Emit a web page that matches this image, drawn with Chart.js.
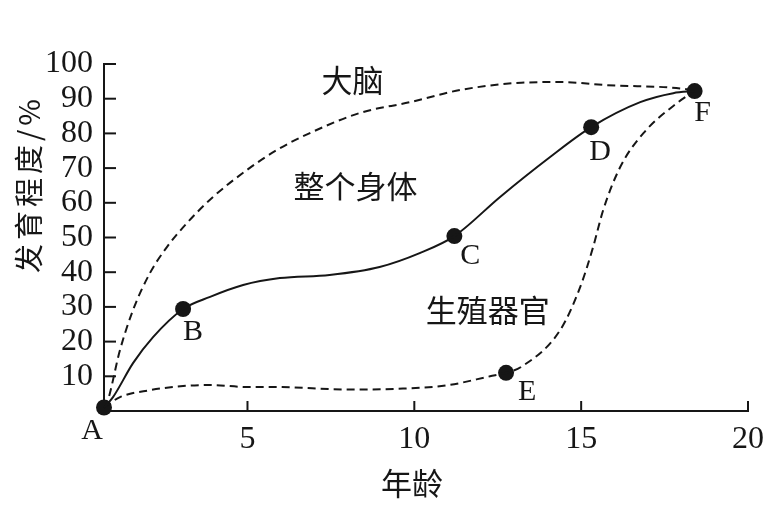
<!DOCTYPE html>
<html>
<head>
<meta charset="utf-8">
<script src="https://cdn.jsdelivr.net/npm/chart.js@4.4.0/dist/chart.umd.min.js"></script>
<style>
  html, body { margin: 0; padding: 0; background: #fff; }
  #wrap { width: 776px; height: 507px; position: relative; }
</style>
</head>
<body>
<div id="wrap"><canvas id="c"></canvas></div>
<script>
/* 人体各部分发育曲线 – 整个身体 / 大脑 / 生殖器官 */
const xTicks = [5, 10, 15, 20];
const yTicks = [10, 20, 30, 40, 50, 60, 70, 80, 90, 100];

// 整个身体 (solid)
const bodyX = [0.7, 0.97, 1.57, 2.17, 3.07, 3.88, 4.87, 5.97, 7.46, 8.96, 10.16, 11.2, 12.57, 14.07, 15.3, 16.77, 17.76, 18.4];
const bodyY = [1, 4, 13.8, 21.3, 29.4, 32.9, 36.3, 38.3, 39.2, 41.5, 45.5, 50.4, 61.7, 73.2, 81.8, 89, 91.6, 92.2];

// 大脑 (dashed, upper)
const brainX = [0.7, 0.79, 1.18, 1.57, 2.08, 2.59, 3.19, 3.97, 4.99, 5.88, 6.87, 8.37, 9.87, 11.37, 13.2, 14.4, 15.78, 18.1, 18.4];
const brainY = [1, 2.3, 17.6, 29.1, 39.8, 47.3, 54.2, 61.7, 69.5, 75.2, 80.1, 85.9, 89, 92.5, 94.6, 94.8, 93.9, 92.8, 92.2];

// 生殖器官 (dashed, lower)
const reproX = [0.7, 1.18, 2.08, 3.07, 3.88, 4.99, 5.88, 8, 9.5, 10.98, 12.27, 12.75, 13.2, 14.37, 14.97, 15.36, 15.66, 16.17, 16.86, 17.88, 18.4];
const reproY = [1, 4, 6, 7.2, 7.5, 6.9, 6.9, 6.2, 6.4, 7.4, 10, 11, 12.7, 23.3, 35.7, 47.3, 57.9, 70.3, 80, 88.8, 92.2];

// 关键点 A–F
const keyNames = ['A', 'B', 'C', 'D', 'E', 'F'];
const keyX = [0.7, 3.07, 11.2, 15.3, 12.75, 18.4];
const keyY = [1, 29.4, 50.4, 81.8, 11, 92.2];

// 区域文字
const regionNames = ['大脑', '整个身体', '生殖器官'];
const regionX = [8.15, 8.24, 12.2];
const regionY = [95.4, 64.8, 29.1];

const INK = '#161616';
const zip = (xs, ys) => xs.map((x, i) => ({ x, y: ys[i] }));

const extras = {
    id: 'extras',
    afterDraw(chart) {
        const { ctx, scales: { x, y } } = chart;
        const ax = x.left, ay = y.bottom;
        ctx.save();
        ctx.strokeStyle = INK;
        ctx.lineWidth = 2;
        // inward tick marks
        y.ticks.forEach(t => {
            const py = y.getPixelForValue(t.value);
            ctx.beginPath(); ctx.moveTo(ax, py); ctx.lineTo(ax + 12, py); ctx.stroke();
        });
        x.ticks.forEach(t => {
            const px = x.getPixelForValue(t.value);
            ctx.beginPath(); ctx.moveTo(px, ay); ctx.lineTo(px, ay - 10); ctx.stroke();
        });

        ctx.fillStyle = INK;
        ctx.textAlign = 'center';
        ctx.textBaseline = 'middle';

        // point letters
        const off = { A: [-12, 24], B: [10, 23], C: [16, 20], D: [9, 25], E: [21, 19], F: [8, 22] };
        ctx.font = '30px "Liberation Serif", "DejaVu Serif", serif';
        keyNames.forEach((n, i) => {
            const px = x.getPixelForValue(keyX[i]), py = y.getPixelForValue(keyY[i]);
            ctx.fillText(n, px + off[n][0], py + off[n][1]);
        });

        // region names
        ctx.font = '31px "Noto Sans CJK SC", sans-serif';
        regionNames.forEach((n, i) => {
            ctx.fillText(n, x.getPixelForValue(regionX[i]), y.getPixelForValue(regionY[i]));
        });

        // axis titles
        ctx.fillText('年龄', 412, 483);
        ctx.translate(29, 184);
        ctx.rotate(-Math.PI / 2);
        ctx.font = '29px "Noto Sans CJK SC", sans-serif';
        ctx.letterSpacing = '4px';
        ctx.fillText('发育程度/%', 0, 0);
        ctx.restore();
    }
};

const lineDs = (data, dash) => ({
    type: 'line',
    data,
    borderColor: INK,
    borderWidth: 2,
    borderDash: dash,
    cubicInterpolationMode: 'monotone',
    pointRadius: 0,
    fill: false,
    clip: false,
});

new Chart(document.getElementById('c'), {
    type: 'scatter',
    data: {
        datasets: [
            lineDs(zip(bodyX, bodyY), []),
            lineDs(zip(brainX, brainY), [8, 5]),
            lineDs(zip(reproX, reproY), [8, 5]),
            {
                type: 'scatter',
                data: zip(keyX, keyY),
                pointRadius: 8,
                pointBackgroundColor: INK,
                pointBorderColor: INK,
                pointBorderWidth: 0,
                clip: false,
            },
        ]
    },
    options: {
        responsive: true,
        maintainAspectRatio: false,
        animation: false,
        layout: { padding: { top: 64, right: 28, left: 0, bottom: 0 } },
        plugins: { legend: { display: false }, tooltip: { enabled: false } },
        scales: {
            x: {
                type: 'linear', min: 0.7, max: 20,
                afterBuildTicks: s => { s.ticks = xTicks.map(v => ({ value: v })); },
                afterFit: s => { s.height = 96; },
                grid: { display: false, drawTicks: false },
                border: { display: true, color: INK, width: 2 },
                ticks: { color: INK, padding: 9, maxRotation: 0, autoSkip: false,
                    font: { family: '"Liberation Serif", "DejaVu Serif", serif', size: 32 } },
            },
            y: {
                type: 'linear', min: 0, max: 100,
                afterBuildTicks: s => { s.ticks = yTicks.map(v => ({ value: v })); },
                afterFit: s => { s.width = 104; },
                grid: { display: false, drawTicks: false },
                border: { display: true, color: INK, width: 2 },
                ticks: { color: INK, padding: 11, autoSkip: false,
                    font: { family: '"Liberation Serif", "DejaVu Serif", serif', size: 32 } },
            },
        },
    },
    plugins: [extras],
});
</script>
</body>
</html>
